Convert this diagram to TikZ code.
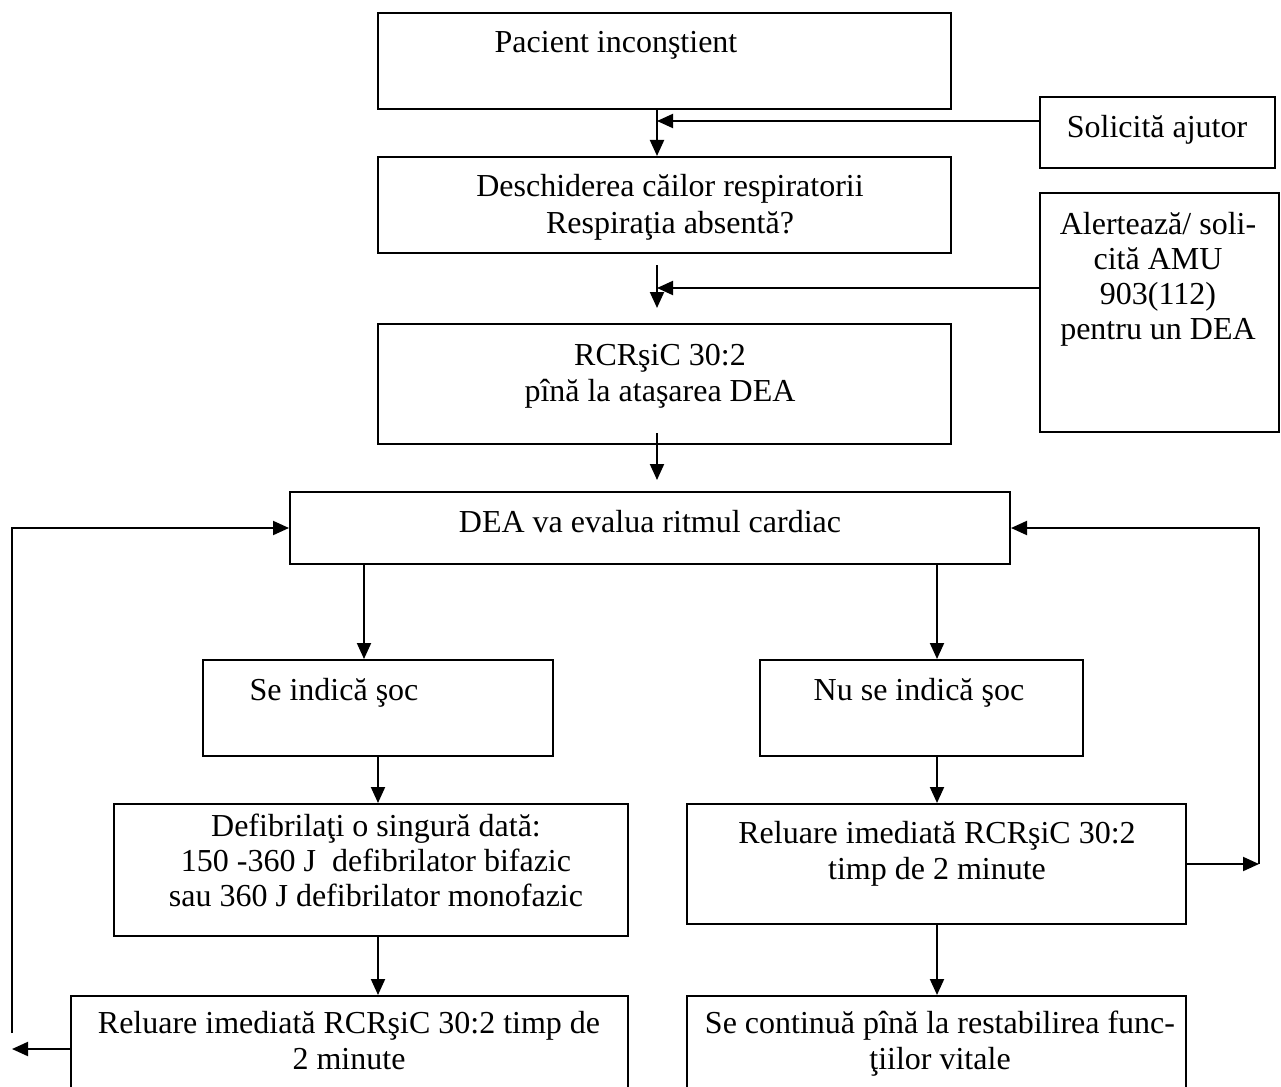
\documentclass[tikz,border=0pt]{standalone}
\usepackage{fontspec}
\setmainfont{Liberation Serif}
\usetikzlibrary{arrows.meta,calc}
\tikzset{
  box/.style={draw, line width=2pt, rectangle, inner sep=0pt},
  txt/.style={align=center, inner sep=0pt, anchor=base, font=\fontsize{32}{36}\selectfont},
  arr/.style={line width=2pt, -{Triangle[length=16pt,width=14pt]}},
  ln/.style={line width=2pt}
}
\begin{document}
\begin{tikzpicture}[x=1pt,y=-1pt]
\useasboundingbox (0,0) rectangle (1281,1086);
\clip (0,0) rectangle (1281,1086);
% boxes
\node[box,minimum width=573pt,minimum height=96pt]  (b1)    at (664.5,61)   {};
\node[box,minimum width=235pt,minimum height=71pt]  (sol)   at (1157.5,132.5) {};
\node[box,minimum width=573pt,minimum height=96pt]  (b2)    at (664.5,205)  {};
\node[box,minimum width=239pt,minimum height=239pt] (alert) at (1159.5,312.5) {};
\node[box,minimum width=573pt,minimum height=120pt] (b3)    at (664.5,384)  {};
\node[box,minimum width=720pt,minimum height=72pt]  (b4)    at (650,528)    {};
\node[box,minimum width=350pt,minimum height=96pt]  (shk)   at (378,708)    {};
\node[box,minimum width=323pt,minimum height=96pt]  (nshk)  at (921.5,708)  {};
\node[box,minimum width=514pt,minimum height=132pt] (defib) at (371,870)    {};
\node[box,minimum width=499pt,minimum height=120pt] (rel2)  at (936.5,864)  {};
\node[box,minimum width=557pt,minimum height=120pt] (rel1)  at (349.5,1056) {};
\node[box,minimum width=499pt,minimum height=120pt] (cont)  at (936.5,1056) {};
% texts (anchor base = baseline of the last line)
\node[txt] (t1)    at (616,53)   {Pacient inconştient};
\node[txt] (tsol)  at (1157,138) {Solicită ajutor};
\node[txt] (t2)    at (670,233)  {Deschiderea căilor respiratorii\\Respiraţia absentă?};
\node[txt,font=\fontsize{32}{35}\selectfont] (talert) at (1158,339) {Alertează/ soli-\\cită AMU\\903(112)\\pentru un DEA};
\node[txt] (t3)    at (660,401)  {RCRşiC 30:2\\pînă la ataşarea DEA};
\node[txt] (t4)    at (650,532)  {DEA va evalua ritmul cardiac};
\node[txt] (tshk)  at (334,700)  {Se indică şoc};
\node[txt] (tnshk) at (919,700)  {Nu se indică şoc};
\node[txt,font=\fontsize{32}{35}\selectfont] (tdef)  at (376,906)  {Defibrilaţi o singură dată:\\150 -360 J\ \ defibrilator bifazic\\sau 360 J defibrilator monofazic};
\node[txt] (trel2) at (937,879)  {Reluare imediată RCRşiC 30:2\\timp de 2 minute};
\node[txt] (trel1) at (349,1069) {Reluare imediată RCRşiC 30:2 timp de\\2 minute};
\node[txt] (tcont) at (940,1069) {Se continuă pînă la restabilirea func-\\ţiilor vitale};
% helper coordinates
\coordinate (ja) at (657,121);
\coordinate (jb) at (657,288);
\coordinate (xa) at (364,0);
\coordinate (xb) at (937,0);
\coordinate (xc) at (378,0);
\coordinate (lc) at (12,1033);
\coordinate (lb) at (12,1049);
\coordinate (rc) at (1259,864);
% connectors
\draw[arr] (b1.south -| ja) -- (b2.north -| ja);
\draw[arr] (sol.west |- ja) -- (ja);
\draw[arr] (alert.west |- jb) -- (jb);
\draw[arr] ($(b2.south -| jb)+(0,11)$) -- ($(b3.north -| jb)+(0,-15)$);
\draw[arr] ($(b3.south -| jb)+(0,-12)$) -- ($(b4.north -| jb)+(0,-11)$);
\draw[arr] (b4.south -| xa) -- (shk.north -| xa);
\draw[arr] (b4.south -| xb) -- (nshk.north -| xb);
\draw[arr] (shk.south -| xc) -- (defib.north -| xc);
\draw[arr] (nshk.south -| xb) -- (rel2.north -| xb);
\draw[arr] (defib.south -| xc) -- (rel1.north -| xc);
\draw[arr] (rel2.south -| xb) -- (cont.north -| xb);
\draw[arr] (lc) |- (b4.west);
\draw[arr] (rel1.west |- lb) -- (lb);
\draw[arr] (rel2.east) -- (rc);
\draw[arr] (rc) |- (b4.east);
\end{tikzpicture}
\end{document}
